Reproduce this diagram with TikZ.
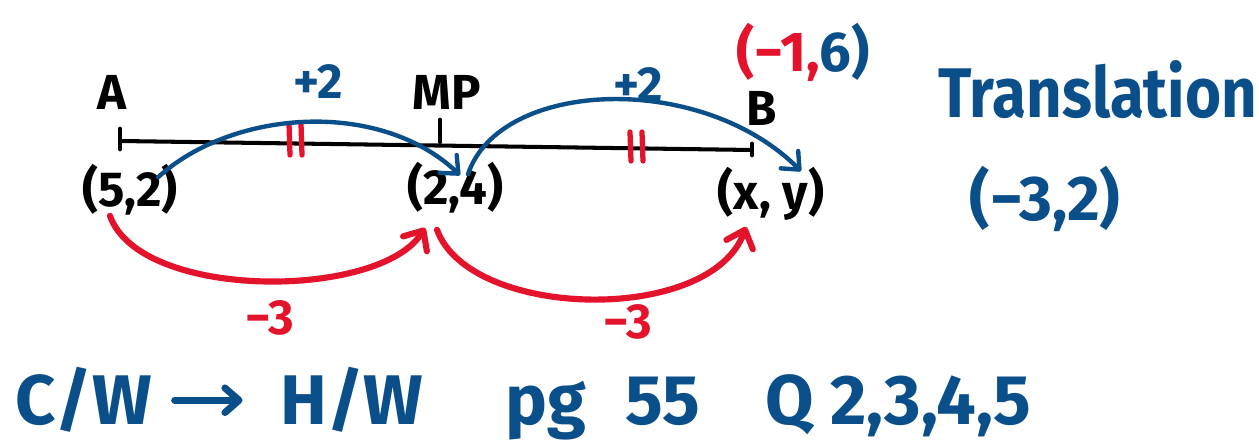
\documentclass[tikz,border=0pt]{standalone}
\usepackage{fontspec}
\setmainfont{Fira Sans}
\usetikzlibrary{arrows.meta, calc}
\definecolor{penblue}{HTML}{0B4F8A}
\definecolor{penred}{HTML}{E3132C}

\begin{document}
\begin{tikzpicture}[x=0.02cm, y=-0.02cm, line cap=round,
    pt/.style={inner sep=0pt, minimum width=1.8cm, minimum height=1.1cm, font=\fontsize{28}{28}\selectfont\bfseries},
    lbl/.style={inner sep=0pt, font=\fontsize{28}{28}\selectfont\bfseries},
    big/.style={inner sep=0pt, text=penblue, font=\fontsize{40}{40}\selectfont\bfseries},
    hop/.style={penblue, line width=2.5pt, -{Straight Barb[length=8pt, width=14pt, round]}},
    drop/.style={penred, line width=3.5pt, -{Straight Barb[length=9pt, width=16pt, round]}}]
  \useasboundingbox (0,0) rectangle (1259,442);

  % segment A -- MP -- B
  \coordinate (A) at (120,141);
  \coordinate (M) at (440,144);
  \coordinate (B) at (752,150);
  \draw[line width=2.3pt] (A) -- (B);
  \draw[line width=2.8pt] ($(A)+(0,-12)$) -- ($(A)+(0,8)$);
  \draw[line width=2.8pt] ($(M)+(0,-24)$) -- ($(M)+(0,-2)$);
  \draw[line width=2.8pt] ($(B)+(0,-6)$) -- ($(B)+(0,5)$);

  % equal marks
  \draw[penred, line width=3pt] (289,124) -- (290,155) (301,124) -- (302,155);
  \draw[penred, line width=3pt] (630,132) -- (631,161) (642,132) -- (643,161);

  % labels of the points
  \node[lbl] (lA) at (112,92) {A};
  \node[lbl] (lM) at (447,92) {MP};
  \node[lbl] (lB) at (762,108) {B};
  \node[pt] (p52) at (130,190) {(5,2)};
  \node[pt] (p24) at (455,188) {(2,4)};
  \node[pt] (pxy) at (771,194) {(x, y)};
  \node[inner sep=0pt, font=\fontsize{32}{32}\selectfont\bfseries] (pB) at (803,52)
    {\textcolor{penred}{(−1,}\textcolor{penblue}{6)}};

  % steps
  \node[lbl, text=penblue] (h1) at (318,82) {+2};
  \node[lbl, text=penblue] (h2) at (638,85) {+2};
  \node[lbl, text=penred] (d1) at (270,318) {−3};
  \node[lbl, text=penred] (d2) at (628,322) {−3};
  \draw[hop] ($(p52.north east)+(-20,15)$) .. controls +(75,-68) and +(-80,-76) .. ($(p24.north)+(5,15)$);
  \draw[hop] ($(p24.north)+(13,14)$) .. controls +(32,-95) and +(-100,-100) .. ($(pxy.north)+(30,5)$);
  \draw[drop] ($(p52.south)+(-20,-2)$) .. controls +(30,85) and +(-45,72) .. ($(p24.south)+(-30,12)$);
  \draw[drop] ($(p24.south)+(-18,14)$) .. controls +(33,90) and +(-35,98) .. ($(pxy.south)+(-25,5)$);

  % translation vector
  \node[big, anchor=west] (ttl) at (938,90) {\scalebox{0.88}[1]{Translation}};
  \node[big, font=\fontsize{36}{36}\selectfont\bfseries] (vec) at (1045,199) {(−3,2)};

  % homework line
  \node[big, anchor=base west] (cw) at (15,425) {C/W};
  \node[big, anchor=base west] (hw) at (280,425) {H/W};
  \node[big, anchor=base west] (pg) at (505,425) {pg};
  \node[big, anchor=base west] (pn) at (625,425) {55};
  \node[big, anchor=base west] (qs) at (765,425) {Q 2,3,4,5};
  \draw[hop, line width=4pt, shorten <=0.45cm, shorten >=0.75cm] (cw.east) -- (hw.west);
\end{tikzpicture}
\end{document}
